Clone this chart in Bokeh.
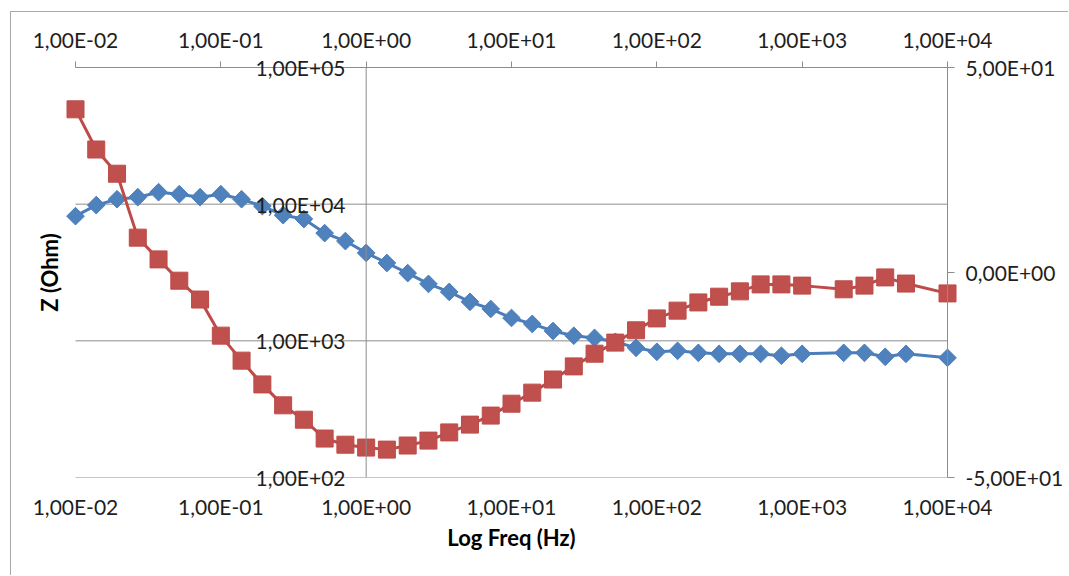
import math
from bokeh.plotting import figure
from bokeh.models import (Range1d, LinearAxis, LogAxis, FixedTicker, ColumnDataSource,
                          LinearScale, Span)
from bokeh.embed import file_html
from bokeh.resources import INLINE

# ---------------- data ----------------
FREQ_HZ = [0.01, 0.01389, 0.01931, 0.02683, 0.03728, 0.05179, 0.07197,
           0.1, 0.1389, 0.1931, 0.2683, 0.3728, 0.5179, 0.7197,
           1.0, 1.389, 1.931, 2.683, 3.728, 5.179, 7.197,
           10.0, 13.89, 19.31, 26.83, 37.28, 51.79, 71.97,
           100.0, 138.9, 193.1, 268.3, 372.8, 517.9, 719.7,
           1000.0, 1931.0, 2683.0, 3728.0, 5179.0, 10000.0]

Z_OHM = [8170, 9840, 10870, 11250, 12240, 11830, 11250,
         11830, 10870, 9670, 8310, 7780, 6140, 5370,
         4400, 3710, 3130, 2610, 2280, 1930, 1710,
         1470, 1330, 1180, 1090, 1050, 984, 889,
         831, 845, 817, 803, 803, 803, 778,
         803, 817, 817, 764, 803, 751]

PHASE_DEG = [39.8, 30.0, 24.1, 8.5, 3.2, -2.0, -6.6,
             -15.4, -21.5, -27.3, -32.4, -35.9, -40.5, -42.0,
             -42.7, -43.2, -42.2, -41.0, -39.0, -37.1, -34.9,
             -32.0, -29.3, -26.1, -22.9, -19.8, -17.1, -14.1,
             -11.2, -9.3, -7.3, -5.9, -4.6, -2.9, -2.9,
             -3.2, -4.1, -3.2, -1.2, -2.7, -5.1]

X_TICKS = [0.01, 0.1, 1.0, 10.0, 100.0, 1000.0, 10000.0]
X_TICK_LABELS = ["1,00E-02", "1,00E-01", "1,00E+00", "1,00E+01",
                 "1,00E+02", "1,00E+03", "1,00E+04"]
Z_TICKS = [100.0, 1000.0, 10000.0, 100000.0]
Z_TICK_LABELS = ["1,00E+02", "1,00E+03", "1,00E+04", "1,00E+05"]
Z_AXIS_CROSS = 1.0          # the Z axis crosses the frequency axis at 1 Hz
PHASE_TICKS = [-50, 0, 50]
PHASE_TICK_LABELS = ["-5,00E+01", "0,00E+00", "5,00E+01"]

X_TITLE = "Log Freq (Hz)"
Y_TITLE = "Z (Ohm)"

# ---------------- styling / layout ----------------
FONT = "Lato"
TICK_FS = "21px"
TITLE_FS = "22px"
TEXT_COLOR = "#1e1e1e"
AXIS_COLOR = "#8c8c8c"
BLUE_LINE = "#4a7ebb"
BLUE_FILL = "#4f81bd"
RED_LINE = "#be4b48"
RED_FILL = "#c0504d"

PX_PER_DECADE = 872 / 6.0
EDGE_PAD_PX = 10                       # room so edge markers are not cut
PAD_DEC = EDGE_PAD_PX / PX_PER_DECADE
x_lo = 10 ** (math.log10(X_TICKS[0]) - PAD_DEC)
x_hi = 10 ** (math.log10(X_TICKS[-1]) + PAD_DEC)

src = ColumnDataSource(dict(f=FREQ_HZ, z=Z_OHM, ph=PHASE_DEG))

p = figure(width=1058, height=564,
           x_axis_type="log", y_axis_type="log",
           x_range=Range1d(x_lo, x_hi),
           y_range=Range1d(Z_TICKS[0], Z_TICKS[-1]),
           output_backend="svg", toolbar_location=None,
           min_border_left=64 - EDGE_PAD_PX, min_border_right=122 - EDGE_PAD_PX,
           min_border_top=55, min_border_bottom=99)
p.styles = {"margin-left": "10px", "margin-top": "11px",
            "border-left": "1px solid #a8a8a8",
            "border-top": "1px solid #a8a8a8"}
p.outline_line_color = None
p.background_fill_color = "white"
p.border_fill_color = "white"
p.extra_y_ranges = {"phase": Range1d(PHASE_TICKS[0], PHASE_TICKS[-1])}
p.extra_y_scales = {"phase": LinearScale()}

p.xgrid.visible = False
p.ygrid.visible = False

# horizontal gridlines at the Z decades, spanning the frequency axis only
p.segment(x0=[X_TICKS[0]] * len(Z_TICKS), x1=[X_TICKS[-1]] * len(Z_TICKS),
          y0=Z_TICKS, y1=Z_TICKS, line_color=AXIS_COLOR, line_width=1)
# Z axis line crossing at 1 Hz, and the phase axis line at the last decade
p.add_layout(Span(location=Z_AXIS_CROSS, dimension="height",
                  line_color=AXIS_COLOR, line_width=1))
p.add_layout(Span(location=X_TICKS[-1], dimension="height",
                  line_color=AXIS_COLOR, line_width=1))


def style_labels(ax):
    ax.major_label_text_font = FONT
    ax.major_label_text_font_size = TICK_FS
    ax.major_label_text_color = TEXT_COLOR
    ax.minor_tick_line_color = None
    ax.axis_line_color = AXIS_COLOR
    ax.major_tick_line_color = AXIS_COLOR
    ax.major_tick_in = 0


# bottom axis: only labels + title
xb = p.xaxis[0]
style_labels(xb)
xb.ticker = FixedTicker(ticks=X_TICKS)
xb.major_label_overrides = dict(zip(X_TICKS, X_TICK_LABELS))
xb.axis_line_color = None
xb.major_tick_line_color = None
xb.major_tick_out = 0
xb.major_label_standoff = 16
xb.axis_label = X_TITLE
xb.axis_label_text_font = FONT
xb.axis_label_text_font_size = TITLE_FS
xb.axis_label_text_font_style = "bold"
xb.axis_label_text_color = "#000000"
xb.axis_label_standoff = 2

# top axis with ticks
xt = LogAxis(ticker=FixedTicker(ticks=X_TICKS), bounds=(X_TICKS[0], X_TICKS[-1]))
style_labels(xt)
xt.major_label_overrides = dict(zip(X_TICKS, X_TICK_LABELS))
xt.major_tick_out = 6
xt.major_label_standoff = 10
p.add_layout(xt, "above")

# left Z axis: its labels are pulled in to sit beside the 1 Hz crossing line
yl = p.yaxis[0]
style_labels(yl)
yl.ticker = FixedTicker(ticks=Z_TICKS)
yl.major_label_overrides = dict(zip(Z_TICKS, Z_TICK_LABELS))
yl.axis_line_color = None
yl.major_tick_line_color = None
yl.major_tick_out = 0
yl.major_label_standoff = -270 - EDGE_PAD_PX
yl.axis_label = Y_TITLE
yl.axis_label_text_font = FONT
yl.axis_label_text_font_size = TITLE_FS
yl.axis_label_text_font_style = "bold"
yl.axis_label_text_color = "#000000"
yl.axis_label_standoff = 190

# right phase axis (ticks pulled back onto the 1e4 line)
yr = LinearAxis(y_range_name="phase", ticker=FixedTicker(ticks=PHASE_TICKS))
style_labels(yr)
yr.major_label_overrides = dict(zip(PHASE_TICKS, PHASE_TICK_LABELS))
yr.axis_line_color = None
yr.major_tick_in = EDGE_PAD_PX
yr.major_tick_out = 7 - EDGE_PAD_PX
yr.major_label_standoff = 8
p.add_layout(yr, "right")

# series
p.line("f", "z", source=src, line_color=BLUE_LINE, line_width=3)
p.scatter("f", "z", source=src, marker="square", angle=0.7854, size=12.5,
          fill_color=BLUE_FILL, line_color=BLUE_LINE, line_width=1)

p.line("f", "ph", source=src, y_range_name="phase", line_color=RED_LINE, line_width=3)
p.scatter("f", "ph", source=src, y_range_name="phase", marker="square", size=17,
          fill_color=RED_FILL, line_color=RED_LINE, line_width=1)

open("out.html", "w").write(file_html(p, INLINE))
